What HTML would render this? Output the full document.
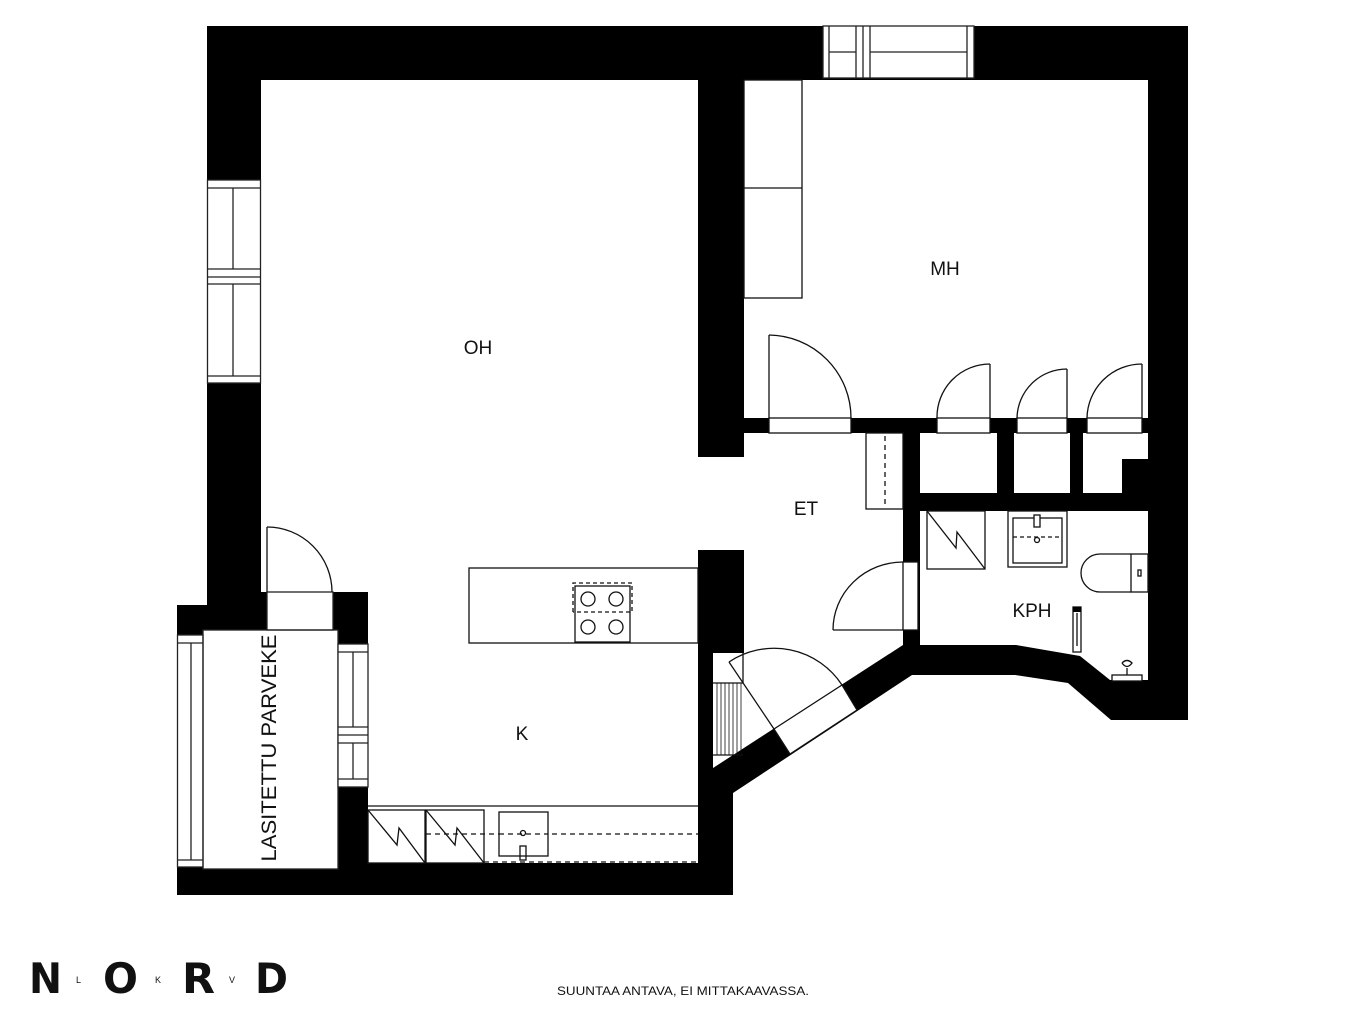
<!DOCTYPE html>
<html><head><meta charset="utf-8"><style>
html,body{margin:0;padding:0;background:#fff;}
svg{display:block;}
text{font-family:"Liberation Sans",sans-serif;fill:#111;}
</style></head><body>
<svg width="1366" height="1025" viewBox="0 0 1366 1025" xmlns="http://www.w3.org/2000/svg">
<rect width="1366" height="1025" fill="#fff"/>
<!-- black footprint -->
<polygon fill="#000" points="207,26 1188,26 1188,720 1111,720 1068,683 1015,675 912,675 733,793 733,895 177,895 177,605 207,605"/>
<g fill="#fff">
<!-- OH -->
<rect x="261" y="80" width="437" height="512"/>
<!-- K -->
<rect x="368" y="580" width="330" height="283"/>
<!-- door opening to balcony -->
<rect x="267" y="585" width="66" height="45"/>
<!-- balcony -->
<rect x="203" y="630" width="135" height="239"/>
<!-- MH -->
<rect x="744" y="80" width="404" height="338"/>
<!-- ET -->
<polygon points="744,433 903,433 903,645 713,768 713,653 744,653"/>
<rect x="697" y="457" width="48" height="93"/>
<!-- closets -->
<rect x="920" y="433" width="77" height="60"/>
<rect x="1014" y="433" width="56" height="60"/>
<polygon points="1083,433 1148,433 1148,459 1122,459 1122,493 1083,493"/>
<!-- KPH -->
<polygon points="920,511 1148,511 1148,680 1110,680 1080,656 1016,645 920,645"/>
</g>
<g fill="#fff" stroke="#222" stroke-width="1.3">
<!-- left window -->
<rect x="207.5" y="180" width="53" height="203"/>
<line x1="207" y1="188" x2="261" y2="188"/><line x1="207" y1="269" x2="261" y2="269"/>
<line x1="207" y1="277" x2="261" y2="277"/><line x1="207" y1="284" x2="261" y2="284"/>
<line x1="207" y1="376" x2="261" y2="376"/>
<line x1="233" y1="188" x2="233" y2="269"/><line x1="233" y1="284" x2="233" y2="376"/>
<!-- top window -->
<rect x="823" y="26" width="151" height="52"/>
<line x1="829" y1="26" x2="829" y2="78"/><line x1="856" y1="26" x2="856" y2="78"/>
<line x1="863" y1="26" x2="863" y2="78"/><line x1="870" y1="26" x2="870" y2="78"/>
<line x1="967" y1="26" x2="967" y2="78"/>
<line x1="829" y1="52" x2="856" y2="52"/><line x1="870" y1="52" x2="967" y2="52"/>
<!-- balcony left glass -->
<rect x="177.5" y="635" width="25.5" height="232"/>
<line x1="177" y1="643" x2="203" y2="643"/><line x1="177" y1="860" x2="203" y2="860"/>
<line x1="191" y1="643" x2="191" y2="860"/>
<rect x="203" y="630" width="135" height="239" fill="none"/>
<!-- balcony right window -->
<rect x="338" y="644" width="30" height="143"/>
<line x1="338" y1="652" x2="368" y2="652"/><line x1="338" y1="727" x2="368" y2="727"/>
<line x1="338" y1="735" x2="368" y2="735"/><line x1="338" y1="743" x2="368" y2="743"/>
<line x1="338" y1="779" x2="368" y2="779"/>
<line x1="353" y1="652" x2="353" y2="727"/><line x1="353" y1="743" x2="353" y2="779"/>
<!-- balcony door -->
<rect x="267" y="592" width="66" height="38" fill="none"/>
</g>
<g fill="none" stroke="#111" stroke-width="1.3">
<line x1="267" y1="527" x2="267" y2="592"/>
<path d="M267,527 A65,65 0 0 1 332,592"/>
<!-- island -->
<rect x="469" y="568" width="229" height="75"/>
<rect x="575" y="586" width="55" height="56"/>
<circle cx="588" cy="599" r="7"/><circle cx="616" cy="599" r="7"/>
<circle cx="588" cy="627" r="7"/><circle cx="616" cy="627" r="7"/>
<path d="M573,612 L573,583 L632,583 L632,612 L573,612" stroke-dasharray="4,3"/>
<!-- counter -->
<line x1="368" y1="806" x2="698" y2="806"/>
<rect x="368" y="810" width="57" height="53"/>
<rect x="426" y="810" width="58" height="53"/>
<polyline points="368,810 397,845 399,828 425,863"/>
<polyline points="426,810 455,845 457,828 484,863"/>
<line x1="426" y1="834" x2="698" y2="834" stroke-dasharray="5,4"/>
<line x1="484" y1="862" x2="698" y2="862" stroke-dasharray="5,4"/>
<rect x="499" y="812" width="49" height="44" fill="#fff"/>
<line x1="499" y1="834" x2="548" y2="834" stroke-dasharray="5,4"/>
<circle cx="523" cy="833" r="2.5"/>
<rect x="520" y="846" width="6" height="14"/>
<!-- MH wardrobe -->
<rect x="744" y="80" width="58" height="218"/>
<line x1="744" y1="188" x2="802" y2="188"/>
<!-- MH door -->
<rect x="769" y="418" width="82" height="15" fill="#fff"/>
<line x1="769" y1="335" x2="769" y2="418"/>
<path d="M769,335 A83,83 0 0 1 851,418"/>
<!-- closet doors -->
<rect x="937" y="418" width="53" height="15" fill="#fff"/>
<line x1="990" y1="364" x2="990" y2="418"/>
<path d="M990,364 A53,53 0 0 0 937,418"/>
<rect x="1017" y="418" width="50" height="15" fill="#fff"/>
<line x1="1067" y1="369" x2="1067" y2="418"/>
<path d="M1067,369 A50,50 0 0 0 1017,418"/>
<rect x="1087" y="418" width="55" height="15" fill="#fff"/>
<line x1="1142" y1="364" x2="1142" y2="418"/>
<path d="M1142,364 A55,55 0 0 0 1087,418"/>
<!-- ET closet -->
<rect x="866" y="433" width="37" height="76"/>
<line x1="885" y1="436" x2="885" y2="508" stroke-dasharray="5,4"/>
<!-- KPH door -->
<rect x="903" y="562" width="15" height="68" fill="#fff"/>
<line x1="903" y1="630" x2="833" y2="630"/>
<path d="M833,630 A70,68 0 0 1 903,562"/>
<!-- stair -->
<line x1="713" y1="683" x2="743" y2="683"/><line x1="713" y1="755" x2="743" y2="755"/>
<line x1="743" y1="653" x2="743" y2="683"/>
<path d="M717,683V755M721,683V755M725,683V755M729,683V755M733,683V755M737,683V755M741,683V755" stroke-width="0.8"/>
<!-- entrance door -->
<polygon points="774,729 842,685 857,710 790,754" fill="#fff"/>
<line x1="774" y1="729" x2="729" y2="662"/>
<path d="M729,662 A81,81 0 0 1 842,685"/>
<!-- shower -->
<rect x="927" y="511" width="58" height="58"/>
<polyline points="927,511 956,548 957,532 985,569"/>
<!-- sink -->
<rect x="1008" y="511" width="59" height="56"/>
<rect x="1013" y="518" width="49" height="45"/>
<line x1="1013" y1="537" x2="1062" y2="537" stroke-dasharray="4,3"/>
<rect x="1034" y="515" width="6" height="12" fill="#fff"/>
<circle cx="1037" cy="540" r="2.5"/>
<!-- toilet -->
<rect x="1131" y="554" width="17" height="38"/>
<path d="M1131,554 L1100,554 A19,19 0 0 0 1100,592 L1131,592"/>
<rect x="1138" y="570" width="3" height="6"/>
<!-- radiator -->
<rect x="1073" y="607" width="8" height="45" fill="#fff"/>
<line x1="1077" y1="613" x2="1077" y2="646"/>
<!-- floor tap -->
<rect x="1112" y="675" width="30" height="6" fill="#fff"/>
<path d="M1127,675 V668 M1122,663 Q1127,658 1132,663 Q1127,670 1122,663"/>
</g>
<rect x="1073" y="607" width="8" height="5" fill="#000"/>
<!-- labels -->
<text x="478" y="354" font-size="19" text-anchor="middle">OH</text>
<text x="945" y="275" font-size="19" text-anchor="middle">MH</text>
<text x="806" y="515" font-size="19" text-anchor="middle">ET</text>
<text x="1032" y="617" font-size="19" text-anchor="middle">KPH</text>
<text x="522" y="740" font-size="19" text-anchor="middle">K</text>
<text transform="translate(276,748) rotate(-90)" font-size="21" text-anchor="middle" textLength="227" lengthAdjust="spacingAndGlyphs">LASITETTU PARVEKE</text>
<!-- logo -->
<g font-weight="bold" fill="#000">
<text x="29" y="993" font-size="42" style="font-family:'DejaVu Sans','Liberation Sans',sans-serif" textLength="33" lengthAdjust="spacingAndGlyphs">N</text>
<text x="103" y="993" font-size="42" style="font-family:'DejaVu Sans','Liberation Sans',sans-serif" textLength="35" lengthAdjust="spacingAndGlyphs">O</text>
<text x="182" y="993" font-size="42" style="font-family:'DejaVu Sans','Liberation Sans',sans-serif" textLength="33" lengthAdjust="spacingAndGlyphs">R</text>
<text x="255" y="993" font-size="42" style="font-family:'DejaVu Sans','Liberation Sans',sans-serif" textLength="33" lengthAdjust="spacingAndGlyphs">D</text>
</g>
<text x="76" y="983" font-size="9">L</text>
<text x="155" y="983" font-size="9">K</text>
<text x="229" y="983" font-size="9">V</text>
<text x="557" y="995" font-size="11.5" textLength="252" lengthAdjust="spacingAndGlyphs">SUUNTAA ANTAVA, EI MITTAKAAVASSA.</text>
</svg>
</body></html>
